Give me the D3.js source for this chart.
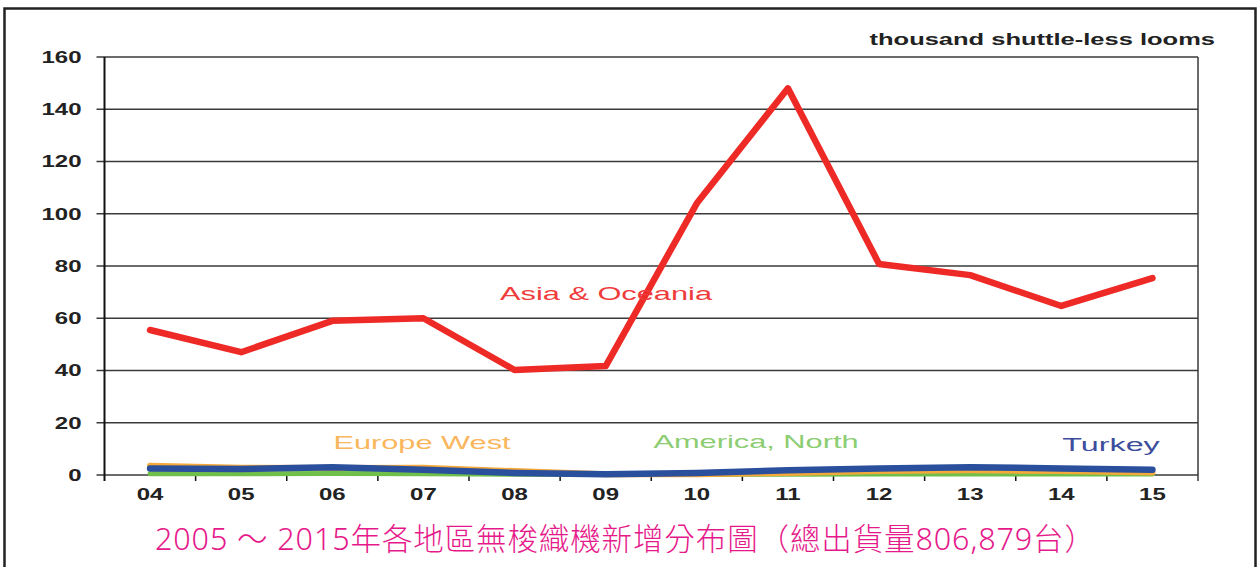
<!DOCTYPE html>
<html><head><meta charset="utf-8">
<script src="https://cdn.jsdelivr.net/npm/d3@7"></script>
<style>body{margin:0;background:#fff;}svg{display:block;}</style>
</head><body>
<svg id="c" width="1258" height="567"></svg>
<script>
const years = ["04","05","06","07","08","09","10","11","12","13","14","15"];
const asiaOceania = [55.5,47,59,60,40.2,41.7,104,148,80.8,76.5,64.7,75.4];
const europeWest = [3.5,2.8,2.7,2.8,1.5,0.3,0.3,0.8,1.5,1.8,1.5,1.0];
const americaNorth = [0.5,0.5,0.6,0.5,0.3,0.2,0.2,0.3,0.4,0.4,0.4,0.4];
const turkey = [2.5,2.3,3.0,2.0,0.8,0.3,0.8,1.8,2.5,3.0,2.5,2.0];
const yTicks = [0,20,40,60,80,100,120,140,160];
const unitLabel = "thousand shuttle-less looms";
const caption = "2005 ～ 2015年各地區無梭織機新增分布圖（總出貨量806,879台）";

const svg = d3.select("#c");
const L=104.5, R=1198, T=57, B=475;
const x = d3.scalePoint().domain(years).range([L,R]).padding(0.5);
const xb = d3.scaleBand().domain(years).range([L,R]);
const y = d3.scaleLinear().domain([0,160]).range([B,T]);
const FONT = "Liberation Sans, Arial, sans-serif";

// horizontally stretched text helper
function stext(parent, px, py, str, opt) {
  const g = parent.append("g").attr("transform", `translate(${px},${py}) scale(${opt.sx},1)`);
  return g.append("text").attr("x",0).attr("y",0)
    .attr("text-anchor", opt.anchor || "middle")
    .attr("dy", opt.dy || "0")
    .attr("font-family", FONT)
    .attr("font-weight", opt.weight || "normal")
    .attr("font-size", opt.size)
    .attr("fill", opt.fill).text(str);
}

// outer frame
svg.append("rect").attr("x",4.5).attr("y",8.5).attr("width",1251).attr("height",600)
  .attr("fill","none").attr("stroke","#222").attr("stroke-width",2.5);

// gridlines
svg.append("g").selectAll("line").data(yTicks).join("line")
  .attr("x1",L-8).attr("x2",R).attr("y1",d=>y(d)).attr("y2",d=>y(d))
  .attr("stroke","#3a3a3a").attr("stroke-width",1.5);
// right border of plot
svg.append("line").attr("x1",R).attr("x2",R).attr("y1",T).attr("y2",B+6).attr("stroke","#3a3a3a").attr("stroke-width",1.5);
// y axis
svg.append("line").attr("x1",L).attr("x2",L).attr("y1",T).attr("y2",B+6).attr("stroke","#111").attr("stroke-width",2);
// x ticks at band boundaries
svg.append("g").selectAll("line").data(years.slice(1)).join("line")
  .attr("x1",d=>xb(d)).attr("x2",d=>xb(d)).attr("y1",B).attr("y2",B+6)
  .attr("stroke","#111").attr("stroke-width",1.5);

// y tick labels
const gy = svg.append("g");
yTicks.forEach(t => stext(gy, 81.5, y(t), t, {anchor:"end", dy:"0.36em", weight:"bold", size:16, sx:1.5, fill:"#222"}));
// x tick labels
const gx = svg.append("g");
years.forEach(t => stext(gx, x(t), 500, t, {anchor:"middle", weight:"bold", size:16, sx:1.5, fill:"#222"}));

const line = d3.line().x((d,i)=>x(years[i])).y(d=>y(d));
const series = [
  {v:americaNorth, c:"#6fbf4a", w:5},
  {v:europeWest, c:"#f5a93a", w:6},
  {v:turkey, c:"#2a4f9c", w:6.5},
  {v:asiaOceania, c:"#ee2a26", w:6.5}
];
svg.append("g").selectAll("path").data(series).join("path")
  .attr("d",d=>line(d.v)).attr("fill","none").attr("stroke",d=>d.c)
  .attr("stroke-width",d=>d.w).attr("stroke-linejoin","round").attr("stroke-linecap","round");

const labels = [
  {t:"Asia & Oceania", x:606, y:293, c:"#ef3b3b"},
  {t:"Europe West", x:422, y:442, c:"#f9b65c"},
  {t:"America, North", x:756, y:441, c:"#8ccd72"},
  {t:"Turkey", x:1111, y:444, c:"#3d4d9c", sx:1.7}
];
const gl = svg.append("g");
labels.forEach(l => stext(gl, l.x, l.y, l.t, {anchor:"middle", dy:"0.36em", size:19, sx:l.sx || 1.62, fill:l.c}));

stext(svg, 1215, 45, unitLabel, {anchor:"end", weight:"bold", size:17, sx:1.5, fill:"#222"});

svg.append("text").attr("x",155).attr("y",550)
  .attr("font-family","Noto Sans, Noto Sans CJK TC, sans-serif").attr("font-weight",300)
  .attr("font-size",30.5).attr("fill","#e6198a")
  .attr("textLength",940).attr("lengthAdjust","spacing").text(caption);
</script>
</body></html>
